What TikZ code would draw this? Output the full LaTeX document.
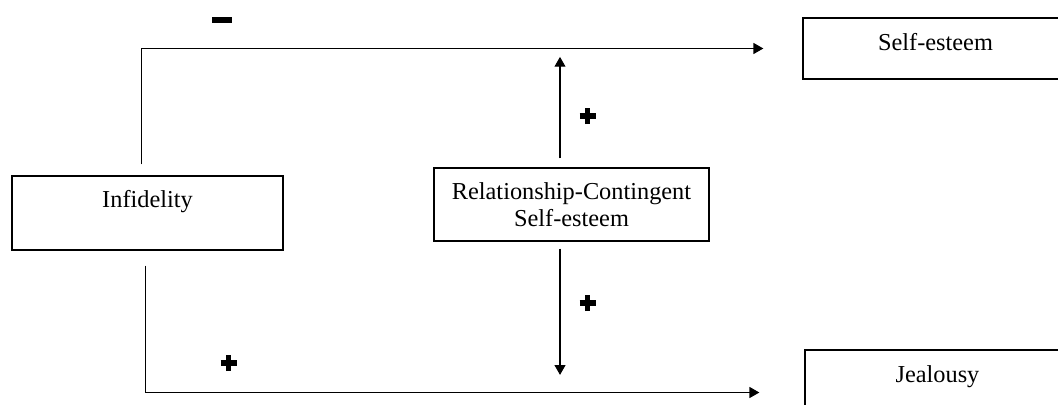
\documentclass[tikz,border=0pt]{standalone}
\usepackage{fontspec}
\setmainfont{Liberation Serif}
\usetikzlibrary{arrows.meta, positioning}

% heavy plus sign built from two bars
\newcommand{\heavyplus}{\rlap{\rule[3.7pt]{11.4pt}{4pt}}\hspace{3.7pt}\rule{4pt}{11.4pt}\hspace{3.7pt}}

\begin{document}
\begin{tikzpicture}[
  x=0.025cm, y=-0.025cm,
  font=\fontsize{17.3}{19.5}\selectfont,
  cause/.style   = {draw, line width=0.9pt, minimum width=6.775cm,
                    minimum height=1.85cm, inner sep=0pt,
                    text height=12pt, text depth=19.8pt},
  moder/.style   = {draw, line width=0.9pt, minimum width=6.875cm,
                    minimum height=1.825cm, align=center, inner sep=0pt},
  outcome/.style = {draw, line width=0.9pt, minimum width=6.625cm,
                    minimum height=1.525cm, inner sep=0pt,
                    text height=12pt, text depth=9.3pt},
  sign/.style    = {inner sep=0pt},
  arr/.style     = {-{Triangle[length=7pt, width=7.8pt]}, line width=0.75pt},
]

\clip (0,0) rectangle (1058,405);
\fill[white] (0,0) rectangle (1058,405);

%% Variables
\node[cause]   (infid)   at (147.5, 213)   {Infidelity};
\node[moder]   (rcse)    at (571.5, 204.5) {Relationship-Contingent\\Self-esteem};
\node[outcome] (selfest) at (935.5, 48.5)  {Self-esteem};
\node[outcome] (jeal)    at (937.5, 380.5) {Jealousy};

%% Direct paths
\draw[arr, shorten <=0.275cm, shorten >=0.975cm]
  ([xshift=-0.14cm]infid.north) |- (selfest.west);
\draw[arr, shorten <=0.375cm, shorten >=1.125cm]
  ([xshift=-0.06cm]infid.south) |- ([yshift=-0.3cm]jeal.west);

%% Moderator
\coordinate (mid) at (560, 0);
\draw[arr, shorten <=0.225cm, shorten >=0.21cm] (mid |- rcse.north) -- (mid |- selfest.west);
\draw[arr, shorten <=0.175cm, shorten >=0.14cm] (mid |- rcse.south) -- (mid |- jeal.west);

%% Signs
\node[sign] (neg)   at (222, 20)  {\rule{0.5cm}{0.14cm}};
\node[sign] (posse) at (585, 116) {\heavyplus};
\node[sign] (posje) at (585, 303) {\heavyplus};
\node[sign] (posin) at (226, 363) {\heavyplus};

\end{tikzpicture}
\end{document}
